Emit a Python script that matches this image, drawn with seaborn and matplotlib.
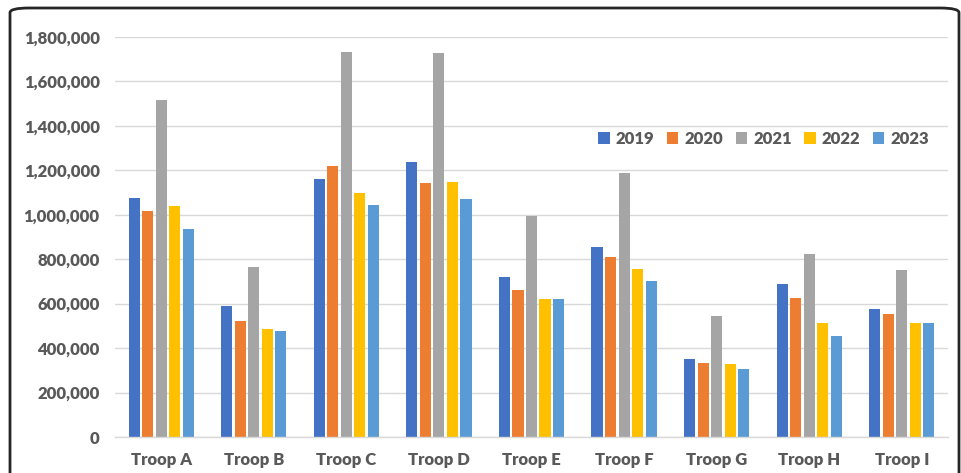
import matplotlib.pyplot as plt
import numpy as np
import pandas as pd
import seaborn as sns
from matplotlib.patches import FancyBboxPatch
from matplotlib.ticker import FuncFormatter

troops = ["Troop A", "Troop B", "Troop C", "Troop D", "Troop E",
          "Troop F", "Troop G", "Troop H", "Troop I"]
years = ["2019", "2020", "2021", "2022", "2023"]

v2019 = [1077000, 589000, 1161000, 1237000, 721000, 855000, 349000, 690000, 576000]
v2020 = [1017000, 522000, 1220000, 1141000, 661000, 811000, 331000, 625000, 552000]
v2021 = [1516000, 765000, 1734000, 1726000, 996000, 1189000, 546000, 822000, 751000]
v2022 = [1041000, 484000, 1098000, 1147000, 619000, 757000, 327000, 513000, 513000]
v2023 = [937000, 478000, 1044000, 1069000, 619000, 702000, 304000, 454000, 513000]

colors = ["#4472C4", "#ED7D31", "#A5A5A5", "#FFC000", "#5B9BD5"]

df = pd.DataFrame({
    "troop": troops * 5,
    "year": np.repeat(years, len(troops)),
    "value": v2019 + v2020 + v2021 + v2022 + v2023,
})

sns.set_theme(style="white")
plt.rcParams["font.family"] = ["Lato", "DejaVu Sans"]
text_color = "#595959"

fig = plt.figure(figsize=(9.62, 4.73), dpi=100)
ax = fig.add_axes([115 / 962, 1 - 437 / 473, 833 / 962, 400 / 473])

sns.barplot(
    data=df, x="troop", y="value", hue="year", palette=colors,
    order=troops, hue_order=years, width=0.73, gap=0.18,
    errorbar=None, ax=ax, saturation=1, linewidth=0,
)

ax.set_ylim(0, 1800000)
ax.set_yticks(np.arange(0, 1800001, 200000))
ax.yaxis.set_major_formatter(FuncFormatter(lambda v, _: f"{int(v):,}"))
ax.grid(axis="y", color="#D9D9D9", linewidth=1)
ax.set_axisbelow(True)
for side in ["top", "right", "left"]:
    ax.spines[side].set_visible(False)
ax.spines["bottom"].set_color("#D9D9D9")
ax.spines["bottom"].set_linewidth(1)
ax.tick_params(axis="both", length=0, labelsize=12, labelcolor=text_color)
ax.tick_params(axis="y", pad=11)
ax.tick_params(axis="x", pad=11)
for lab in ax.get_xticklabels() + ax.get_yticklabels():
    lab.set_fontweight("heavy")
ax.set_xlabel("")
ax.set_ylabel("")

leg = ax.legend(
    loc="center", bbox_to_anchor=(0.7785, 0.745), ncol=5, frameon=False,
    handlelength=0.7, handleheight=0.7, handletextpad=0.35, columnspacing=0.75,
    prop={"weight": "heavy", "size": 12},
)
for t in leg.get_texts():
    t.set_color(text_color)

frame = FancyBboxPatch(
    (10 / 962, -0.2), 949 / 962, 1.2 - 8 / 473,
    boxstyle="round,pad=0,rounding_size=0.02",
    transform=fig.transFigure, fill=False, edgecolor="#262626",
    linewidth=2, mutation_aspect=473 / 962,
)
fig.patches.append(frame)

fig.savefig("out.png", dpi=100)
